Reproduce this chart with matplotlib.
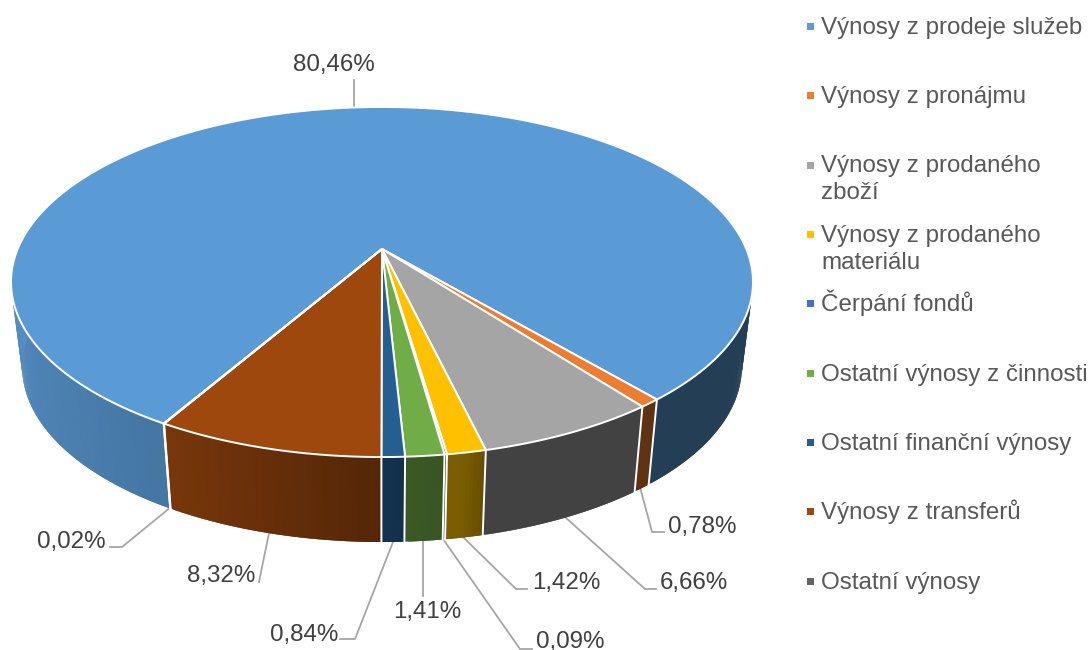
import numpy as np
import matplotlib
matplotlib.use('Agg')
import matplotlib.pyplot as plt
from matplotlib.collections import PolyCollection
from matplotlib.patches import Rectangle

categories = ['Výnosy z prodeje služeb', 'Výnosy z pronájmu', 'Výnosy z prodaného\nzboží',
              'Výnosy z prodaného\nmateriálu', 'Čerpání fondů', 'Ostatní výnosy z činnosti',
              'Ostatní finanční výnosy', 'Výnosy z transferů', 'Ostatní výnosy']
values = [80.46, 0.78, 6.66, 1.42, 0.09, 1.41, 0.84, 8.32, 0.02]
labels = ['80,46%', '0,78%', '6,66%', '1,42%', '0,09%', '1,41%', '0,84%', '8,32%', '0,02%']
colors = ['#5B9BD5', '#ED7D31', '#A5A5A5', '#FFC000', '#4472C4', '#70AD47', '#255E91', '#9E480E', '#636363']

# layout, all in pixels of the 1088x650 picture
cx, cy = 382, 249
A, B, k = 364.3, 168.8, 0.1886
depth = 85
bottom_scale = 0.97
start_angle = 210.1

label_pos = [(293, 71), (668, 533), (660, 589), (532, 589), (536, 648), (393, 618), (270, 641), (187, 582), (37, 548)]
leaders = [
    [(354, 107), (354, 80)],
    [(640, 487), (652, 532), (664, 532)],
    [(565, 517), (645, 589), (656, 589)],
    [(463, 537), (516, 589), (527, 589)],
    [(443, 539), (520, 649), (532, 649)],
    [(423, 541), (423, 596)],
    [(393, 542), (355, 639), (340, 639)],
    [(269, 533), (259, 582)],
    [(171, 507), (122, 547), (110, 547)],
]
legend_baselines = [34, 103, 172, 242, 311, 381, 450, 519, 589]
legend_squares = [26.5, 95, 165, 234, 303, 373, 442, 511, 581]

plt.rcParams['font.family'] = ['Liberation Sans', 'DejaVu Sans']
FS = 17.35


def top_xy(a):
    # a in degrees, clockwise from the far side of the disc
    r = np.radians(a)
    w = 1 + k * np.cos(r)
    return cx + A * np.sin(r) / w, cy - B * np.cos(r) / w


def bottom_xy(a):
    x, y = top_xy(a)
    return cx + (x - cx) * bottom_scale, y + depth


def shade(a):
    a = (np.asarray(a) + 360) % 360
    return np.interp(a, [90, 167, 170, 178, 183, 210, 270], [.40, .40, .48, .52, .55, .76, .93])


fig = plt.figure(figsize=(10.88, 6.5), dpi=100)
ax = fig.add_axes([0, 0, 1, 1])
ax.set_xlim(0, 1088)
ax.set_ylim(650, 0)
ax.axis('off')

edges = start_angle + np.cumsum([0] + values) * 3.6

# side walls, cut into strips for the shading. each strip also covers the one before it, so no seams show
for i in range(len(values)):
    steps = max(2, int((edges[i + 1] - edges[i]) / 0.5))
    aa = np.linspace(edges[i], edges[i + 1], steps + 1)
    polys = []
    cols = []
    rgb = np.array(matplotlib.colors.to_rgb(colors[i]))
    for j in range(steps):
        a0 = aa[max(j - 1, 0)]
        a1 = aa[j + 1]
        polys.append([top_xy(a0), top_xy(a1), bottom_xy(a1), bottom_xy(a0)])
        cols.append(rgb * shade((aa[j] + a1) / 2))
    ax.add_collection(PolyCollection(polys, facecolors=cols, edgecolors='none', linewidths=0, zorder=2))

# white joints on the visible front of the wall
for e in edges:
    a = e % 360
    if 100 < a < 262:
        x0, y0 = top_xy(a)
        x1, y1 = bottom_xy(a)
        ax.plot([x0, x1], [y0, y1], color='white', lw=1.4, zorder=3)

# top of the disc
for i in range(len(values)):
    steps = max(2, int((edges[i + 1] - edges[i]) / 0.5))
    aa = np.linspace(edges[i], edges[i + 1], steps + 1)
    xs, ys = top_xy(aa)
    xy = np.column_stack([np.r_[cx, xs], np.r_[cy, ys]])
    ax.fill(xy[:, 0], xy[:, 1], facecolor=colors[i], edgecolor='white', lw=1.4, joinstyle='round', zorder=4)

for pts, lab, pos in zip(leaders, labels, label_pos):
    ax.plot([p[0] for p in pts], [p[1] for p in pts], color='#A6A6A6', lw=1.3, zorder=1)
    ax.text(pos[0], pos[1], lab, fontsize=FS, color='#404040', ha='left', va='baseline', zorder=5)

for name, col, base, sq in zip(categories, colors, legend_baselines, legend_squares):
    ax.add_patch(Rectangle((806.5, sq - 3.5), 7, 7, facecolor=col, edgecolor='none'))
    ax.text(821, base, name.split('\n')[0], fontsize=FS, color='#595959', ha='left', va='baseline')
    if '\n' in name:
        ax.text(821, base + 27, name.split('\n')[1], fontsize=FS, color='#595959', ha='left', va='baseline')

fig.savefig('out.png', dpi=100)
